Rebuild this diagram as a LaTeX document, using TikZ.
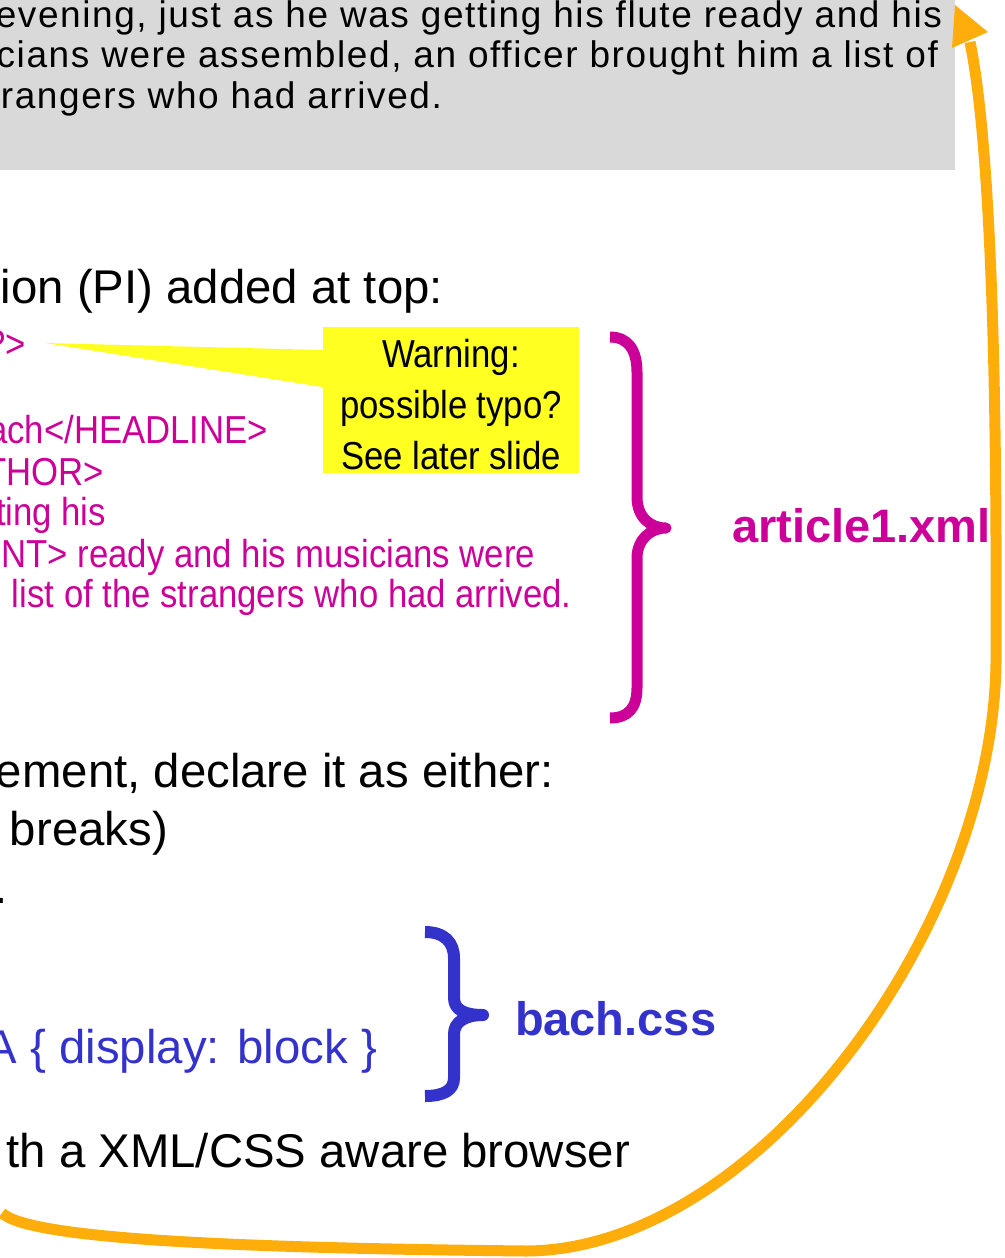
\documentclass[tikz,border=0pt]{standalone}
\usepackage{fontspec}
\setmainfont{Liberation Sans}
\newfontfamily\narrowfont[FakeStretch=0.89]{Liberation Sans}
\newfontfamily\grayfont[LetterSpace=4.3]{Liberation Sans}
\definecolor{xmlpink}{HTML}{CC0099}
\definecolor{cssblue}{HTML}{3333CC}
\definecolor{arroworange}{HTML}{FFAD0A}
\definecolor{warnyellow}{HTML}{FFFF22}
\definecolor{boxgray}{HTML}{D9D9D9}
\begin{document}
\begin{tikzpicture}[x=0.75pt,y=-0.75pt,
  txt/.style={inner sep=0pt, outer sep=0pt},
  body/.style={txt, font=\fontsize{35.5pt}{40pt}\selectfont, text=black},
  csstext/.style={txt, font=\fontsize{35.5pt}{40pt}\selectfont, text=cssblue},
  code/.style={txt, font=\narrowfont\fontsize{29.25pt}{36pt}\selectfont, text=xmlpink},
  note/.style={txt, font=\narrowfont\fontsize{29.25pt}{36pt}\selectfont, text=black},
  quote/.style={txt, font=\grayfont\fontsize{27.75pt}{30pt}\selectfont, text=black},
  filename/.style={txt, font=\bfseries\fontsize{35.25pt}{40pt}\selectfont},
  bracestroke/.style={line width=8.25pt, line join=round},
]
\clip (0,0) rectangle (1005,1258);

% grey quoted box
\node[fill=boxgray, inner sep=0pt, minimum width=716.25pt, minimum height=127.5pt, anchor=north west] (qbox) at (0,0) {};
\node[quote, anchor=base east] (q1) at (942,27) {evening, just as he was getting his flute ready and his};
\node[quote, anchor=base east] (q2) at (938,67) {cians were assembled, an officer brought him a list of};
\node[quote, anchor=base east] (q3) at (442,108) {rangers who had arrived.};

% PI line
\node[body, anchor=base east] (pi) at (443,303) {ion (PI) added at top:};

% callout tail and box
\fill[warnyellow] (323,350) -- (45,343) -- (323,387) -- cycle;
\node[fill=warnyellow, inner sep=0pt, minimum width=192pt, minimum height=109.5pt, anchor=north west] (warn) at (323,327) {};
\node[note, anchor=base] (w1) at (451,367) {Warning:};
\node[note, anchor=base] (w2) at (451,418) {possible typo?};
\node[note, anchor=base] (w3) at (451,469) {See later slide};

% XML code lines
\node[code, anchor=base east] (c0) at (26,357) {?>};
\node[code, anchor=base east] (c1) at (268,443) {ach</HEADLINE>};
\node[code, anchor=base east] (c2) at (104,485) {THOR>};
\node[code, anchor=base east] (c3) at (106,525) {ting his};
\node[code, anchor=base east] (c4) at (535,567) {NT> ready and his musicians were};
\node[code, anchor=base west] (c5) at (12,607) {list of the strangers who had arrived.};

% magenta brace
\draw[xmlpink, bracestroke] (610,337) .. controls (628,337) and (637,350) .. (637,372)
  -- (637,497) .. controls (637,517) and (650,528) .. (666,528)
  .. controls (650,528) and (637,540) .. (637,558)
  -- (637,688) .. controls (637,708) and (628,718) .. (610,718);
\node[filename, text=xmlpink, anchor=base west] (xmlname) at (732,542) {article1.xml};

% middle text
\node[body, anchor=base west] (decl) at (-4,787) {ement, declare it as either:};
\node[body, anchor=base west] (brk) at (10,845) {breaks)};
\node[body, anchor=base west] (dot) at (-6,903) {.};

% CSS part
\draw[cssblue, bracestroke, line width=9pt] (425,932) .. controls (444,932) and (454,942) .. (454,958)
  -- (454,998) .. controls (454,1010) and (465,1015) .. (483,1015)
  .. controls (465,1015) and (454,1022) .. (454,1034)
  -- (454,1078) .. controls (454,1090) and (444,1096) .. (425,1096);
\node[filename, text=cssblue, anchor=base west] (cssname) at (515,1035) {bach.css};
\node[csstext, anchor=base east] (css) at (377,1063) {A \{ display: block \}};

\node[body, anchor=base east] (view) at (630,1167) {th a XML/CSS aware browser};

% orange return arrow
\coordinate (arrstart) at (2,1213);
\coordinate (arrend) at (970,42);
\draw[arroworange, line width=8.25pt] (arrstart) .. controls (30,1240) and (250,1248) .. (526,1251)
  .. controls (760,1250) and (1000,920) .. (996,650)
  .. controls (997,400) and (992,150) .. (arrend);
\fill[arroworange] (955,5) -- (952,48) -- (988,32) -- cycle;
\end{tikzpicture}
\end{document}
